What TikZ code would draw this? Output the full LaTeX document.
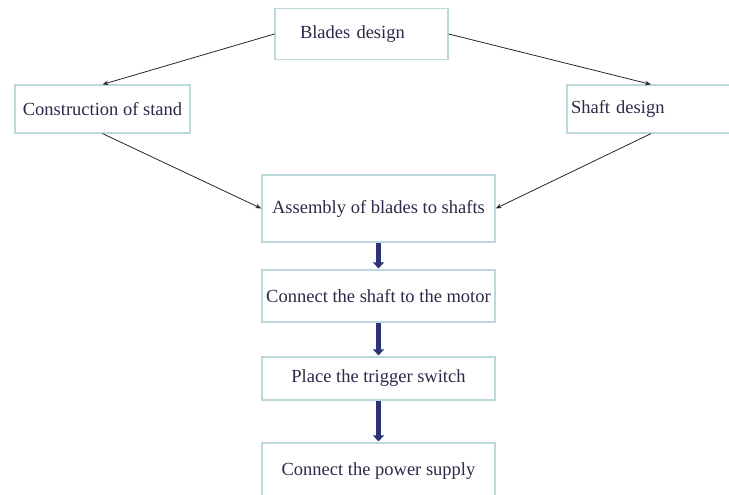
\documentclass[tikz,border=0pt]{standalone}
\usepackage{fontspec}
\setmainfont{Liberation Serif}
\usetikzlibrary{arrows.meta}
\definecolor{boxline}{HTML}{BCD8DB}
\definecolor{textcol}{HTML}{2A2A48}
\definecolor{navyarrow}{HTML}{2C3474}
\begin{document}
\begin{tikzpicture}[x=1pt,y=-1pt,
    stepbox/.style={draw=boxline, line width=1.2pt, text=textcol, font=\fontsize{18.5}{21}\selectfont, inner sep=0pt},
    thinarrow/.style={-{Stealth[length=6pt,width=4.5pt]}, line width=0.8pt, black!85},
    thickarrow/.style={-{Triangle[length=6pt,width=11pt]}, line width=4.5pt, navyarrow, shorten >=1pt}]
    \useasboundingbox (0,0) rectangle (729,495);
    \node[stepbox, minimum width=173pt, minimum height=51pt, text width=157pt, align=left, inner xsep=8pt] (blades) at (361.5,34) {\hspace*{17pt}Blades design};
    \node[stepbox, minimum width=175pt, minimum height=48pt] (stand)  at (102.5,109)  {Construction of stand};
    \node[stepbox, minimum width=168pt, minimum height=48pt, text width=160pt, align=left, inner xsep=4pt] (shaft) at (651,109) {Shaft design};
    \node[stepbox, minimum width=233pt, minimum height=67pt] (assembly) at (378.5,208.5) {Assembly of blades to shafts};
    \node[stepbox, minimum width=233pt, minimum height=52pt] (motor)    at (378.5,296)   {Connect the shaft to the motor};
    \node[stepbox, minimum width=233pt, minimum height=43pt] (trigger)  at (378.5,378.5) {Place the trigger switch};
    \node[stepbox, minimum width=233pt, minimum height=57pt] (power)    at (378.5,471.5) {Connect the power supply};
    % thin connectors
    \draw[thinarrow] (blades.west) -- (stand.north);
    \draw[thinarrow] (blades.east) -- (shaft.north);
    \draw[thinarrow] (stand.south) -- (assembly.west);
    \draw[thinarrow] (shaft.south) -- (assembly.east);
    % thick connectors
    \draw[thickarrow] (assembly.south) -- (motor.north);
    \draw[thickarrow] (motor.south) -- (trigger.north);
    \draw[thickarrow] (trigger.south) -- (power.north);
\end{tikzpicture}
\end{document}
